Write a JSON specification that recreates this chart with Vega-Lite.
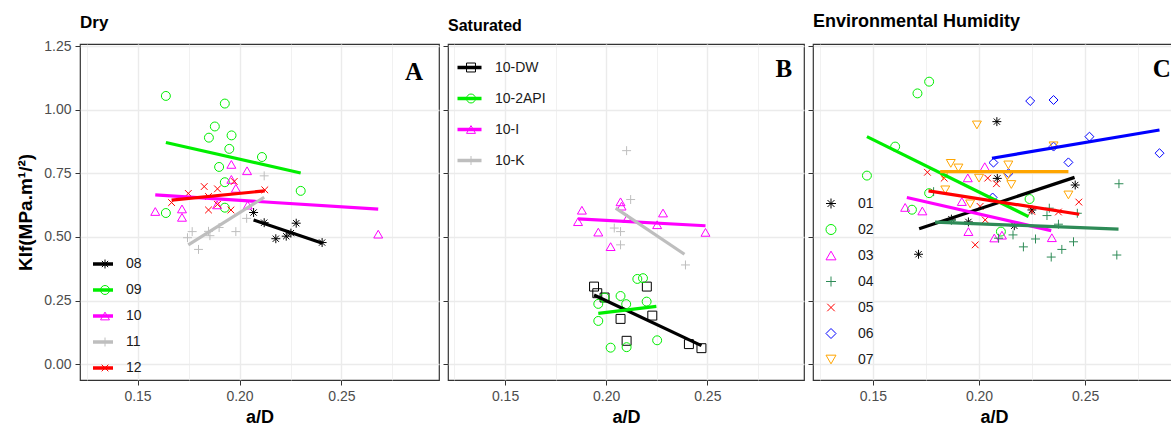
{
  "$schema": "https://vega.github.io/schema/vega-lite/v6.json",
  "padding": {"left": 16, "top": 12, "right": 0, "bottom": 0},
  "spacing": 1,
  "config": {
    "font": "Liberation Sans",
    "view": {"stroke": "#333333", "strokeWidth": 1.2},
    "axis": {"domain": false, "gridColor": "#EBEBEB", "tickColor": "#333333", "labelColor": "#4D4D4D", "labelFontSize": 14, "titleFontSize": 18, "titleFontWeight": "bold", "titleColor": "#000000", "tickSize": 5, "labelPadding": 4},
    "legend": {"title": null, "padding": 0, "rowPadding": 0, "labelFontSize": 14, "labelColor": "#1A1A1A"},
    "title": {"fontSize": 16, "fontWeight": "bold", "color": "#000000", "anchor": "start", "frame": "group"}
  },
  "resolve": {"scale": {"color": "independent", "shape": "independent", "stroke": "independent"}},
  "datasets": {
    "pts": [
      {"p": "A", "g": "08", "x": 0.2069, "y": 0.596}, {"p": "A", "g": "08", "x": 0.2121, "y": 0.556}, {"p": "A", "g": "08", "x": 0.2178, "y": 0.493}, {"p": "A", "g": "08", "x": 0.2229, "y": 0.503}, {"p": "A", "g": "08", "x": 0.2252, "y": 0.515}, {"p": "A", "g": "08", "x": 0.2278, "y": 0.554}, {"p": "A", "g": "08", "x": 0.2405, "y": 0.478},
      {"p": "A", "g": "09", "x": 0.1639, "y": 1.054}, {"p": "A", "g": "09", "x": 0.1928, "y": 1.024}, {"p": "A", "g": "09", "x": 0.1879, "y": 0.934}, {"p": "A", "g": "09", "x": 0.185, "y": 0.89}, {"p": "A", "g": "09", "x": 0.1961, "y": 0.899}, {"p": "A", "g": "09", "x": 0.195, "y": 0.846}, {"p": "A", "g": "09", "x": 0.19, "y": 0.775}, {"p": "A", "g": "09", "x": 0.1928, "y": 0.715}, {"p": "A", "g": "09", "x": 0.211, "y": 0.814}, {"p": "A", "g": "09", "x": 0.23, "y": 0.681}, {"p": "A", "g": "09", "x": 0.1639, "y": 0.594}, {"p": "A", "g": "09", "x": 0.1928, "y": 0.615},
      {"p": "A", "g": "10", "x": 0.1587, "y": 0.6}, {"p": "A", "g": "10", "x": 0.1718, "y": 0.61}, {"p": "A", "g": "10", "x": 0.1718, "y": 0.577}, {"p": "A", "g": "10", "x": 0.196, "y": 0.785}, {"p": "A", "g": "10", "x": 0.2037, "y": 0.76}, {"p": "A", "g": "10", "x": 0.196, "y": 0.726}, {"p": "A", "g": "10", "x": 0.1982, "y": 0.691}, {"p": "A", "g": "10", "x": 0.189, "y": 0.626}, {"p": "A", "g": "10", "x": 0.204, "y": 0.625}, {"p": "A", "g": "10", "x": 0.268, "y": 0.511},
      {"p": "A", "g": "11", "x": 0.1745, "y": 0.497}, {"p": "A", "g": "11", "x": 0.1768, "y": 0.521}, {"p": "A", "g": "11", "x": 0.1799, "y": 0.451}, {"p": "A", "g": "11", "x": 0.1848, "y": 0.522}, {"p": "A", "g": "11", "x": 0.1855, "y": 0.505}, {"p": "A", "g": "11", "x": 0.19, "y": 0.537}, {"p": "A", "g": "11", "x": 0.1982, "y": 0.521}, {"p": "A", "g": "11", "x": 0.2035, "y": 0.573}, {"p": "A", "g": "11", "x": 0.2121, "y": 0.74},
      {"p": "A", "g": "12", "x": 0.1667, "y": 0.635}, {"p": "A", "g": "12", "x": 0.1749, "y": 0.671}, {"p": "A", "g": "12", "x": 0.1827, "y": 0.698}, {"p": "A", "g": "12", "x": 0.1892, "y": 0.689}, {"p": "A", "g": "12", "x": 0.1848, "y": 0.659}, {"p": "A", "g": "12", "x": 0.1974, "y": 0.718}, {"p": "A", "g": "12", "x": 0.1848, "y": 0.606}, {"p": "A", "g": "12", "x": 0.1892, "y": 0.628}, {"p": "A", "g": "12", "x": 0.1958, "y": 0.606}, {"p": "A", "g": "12", "x": 0.2124, "y": 0.685},
      {"p": "B", "g": "10-DW", "x": 0.194, "y": 0.305}, {"p": "B", "g": "10-DW", "x": 0.1956, "y": 0.279}, {"p": "B", "g": "10-DW", "x": 0.1992, "y": 0.262}, {"p": "B", "g": "10-DW", "x": 0.2201, "y": 0.305}, {"p": "B", "g": "10-DW", "x": 0.2071, "y": 0.178}, {"p": "B", "g": "10-DW", "x": 0.2228, "y": 0.191}, {"p": "B", "g": "10-DW", "x": 0.2101, "y": 0.092}, {"p": "B", "g": "10-DW", "x": 0.2409, "y": 0.079}, {"p": "B", "g": "10-DW", "x": 0.2471, "y": 0.063},
      {"p": "B", "g": "10-2API", "x": 0.2154, "y": 0.335}, {"p": "B", "g": "10-2API", "x": 0.2182, "y": 0.338}, {"p": "B", "g": "10-2API", "x": 0.2071, "y": 0.268}, {"p": "B", "g": "10-2API", "x": 0.1961, "y": 0.237}, {"p": "B", "g": "10-2API", "x": 0.2099, "y": 0.236}, {"p": "B", "g": "10-2API", "x": 0.22, "y": 0.246}, {"p": "B", "g": "10-2API", "x": 0.1961, "y": 0.17}, {"p": "B", "g": "10-2API", "x": 0.2022, "y": 0.065}, {"p": "B", "g": "10-2API", "x": 0.2101, "y": 0.067}, {"p": "B", "g": "10-2API", "x": 0.2252, "y": 0.094}, {"p": "B", "g": "10-2API", "x": 0.1992, "y": 0.262},
      {"p": "B", "g": "10-I", "x": 0.188, "y": 0.605}, {"p": "B", "g": "10-I", "x": 0.1861, "y": 0.56}, {"p": "B", "g": "10-I", "x": 0.1961, "y": 0.519}, {"p": "B", "g": "10-I", "x": 0.2022, "y": 0.462}, {"p": "B", "g": "10-I", "x": 0.2071, "y": 0.638}, {"p": "B", "g": "10-I", "x": 0.2076, "y": 0.621}, {"p": "B", "g": "10-I", "x": 0.2104, "y": 0.573}, {"p": "B", "g": "10-I", "x": 0.2252, "y": 0.548}, {"p": "B", "g": "10-I", "x": 0.2281, "y": 0.594}, {"p": "B", "g": "10-I", "x": 0.2491, "y": 0.518},
      {"p": "B", "g": "10-K", "x": 0.2101, "y": 0.839}, {"p": "B", "g": "10-K", "x": 0.2121, "y": 0.647}, {"p": "B", "g": "10-K", "x": 0.204, "y": 0.535}, {"p": "B", "g": "10-K", "x": 0.2071, "y": 0.521}, {"p": "B", "g": "10-K", "x": 0.2071, "y": 0.469}, {"p": "B", "g": "10-K", "x": 0.2392, "y": 0.39},
      {"p": "C", "g": "01", "x": 0.2084, "y": 0.953}, {"p": "C", "g": "01", "x": 0.2086, "y": 0.73}, {"p": "C", "g": "01", "x": 0.2453, "y": 0.704}, {"p": "C", "g": "01", "x": 0.2249, "y": 0.606}, {"p": "C", "g": "01", "x": 0.2166, "y": 0.544}, {"p": "C", "g": "01", "x": 0.195, "y": 0.559}, {"p": "C", "g": "01", "x": 0.187, "y": 0.57}, {"p": "C", "g": "01", "x": 0.1715, "y": 0.432},
      {"p": "C", "g": "02", "x": 0.1765, "y": 1.11}, {"p": "C", "g": "02", "x": 0.171, "y": 1.064}, {"p": "C", "g": "02", "x": 0.1605, "y": 0.855}, {"p": "C", "g": "02", "x": 0.1472, "y": 0.741}, {"p": "C", "g": "02", "x": 0.1765, "y": 0.672}, {"p": "C", "g": "02", "x": 0.1684, "y": 0.607}, {"p": "C", "g": "02", "x": 0.2103, "y": 0.521}, {"p": "C", "g": "02", "x": 0.2238, "y": 0.649},
      {"p": "C", "g": "03", "x": 0.1652, "y": 0.616}, {"p": "C", "g": "03", "x": 0.1733, "y": 0.602}, {"p": "C", "g": "03", "x": 0.1919, "y": 0.639}, {"p": "C", "g": "03", "x": 0.1947, "y": 0.732}, {"p": "C", "g": "03", "x": 0.2027, "y": 0.776}, {"p": "C", "g": "03", "x": 0.195, "y": 0.521}, {"p": "C", "g": "03", "x": 0.2072, "y": 0.496}, {"p": "C", "g": "03", "x": 0.2108, "y": 0.507}, {"p": "C", "g": "03", "x": 0.2343, "y": 0.497},
      {"p": "C", "g": "04", "x": 0.2659, "y": 0.709}, {"p": "C", "g": "04", "x": 0.2649, "y": 0.429}, {"p": "C", "g": "04", "x": 0.2445, "y": 0.481}, {"p": "C", "g": "04", "x": 0.239, "y": 0.451}, {"p": "C", "g": "04", "x": 0.234, "y": 0.421}, {"p": "C", "g": "04", "x": 0.2266, "y": 0.492}, {"p": "C", "g": "04", "x": 0.2209, "y": 0.461}, {"p": "C", "g": "04", "x": 0.216, "y": 0.508}, {"p": "C", "g": "04", "x": 0.2092, "y": 0.495}, {"p": "C", "g": "04", "x": 0.232, "y": 0.584}, {"p": "C", "g": "04", "x": 0.2331, "y": 0.613}, {"p": "C", "g": "04", "x": 0.2463, "y": 0.593}, {"p": "C", "g": "04", "x": 0.2374, "y": 0.55}, {"p": "C", "g": "04", "x": 0.1786, "y": 0.678}, {"p": "C", "g": "04", "x": 0.187, "y": 0.565},
      {"p": "C", "g": "05", "x": 0.1757, "y": 0.754}, {"p": "C", "g": "05", "x": 0.1836, "y": 0.731}, {"p": "C", "g": "05", "x": 0.2041, "y": 0.731}, {"p": "C", "g": "05", "x": 0.2082, "y": 0.709}, {"p": "C", "g": "05", "x": 0.2005, "y": 0.62}, {"p": "C", "g": "05", "x": 0.2029, "y": 0.567}, {"p": "C", "g": "05", "x": 0.1982, "y": 0.469}, {"p": "C", "g": "05", "x": 0.2249, "y": 0.6}, {"p": "C", "g": "05", "x": 0.2374, "y": 0.598}, {"p": "C", "g": "05", "x": 0.247, "y": 0.637},
      {"p": "C", "g": "06", "x": 0.2241, "y": 1.034}, {"p": "C", "g": "06", "x": 0.2351, "y": 1.038}, {"p": "C", "g": "06", "x": 0.252, "y": 0.894}, {"p": "C", "g": "06", "x": 0.2351, "y": 0.855}, {"p": "C", "g": "06", "x": 0.2421, "y": 0.793}, {"p": "C", "g": "06", "x": 0.2068, "y": 0.792}, {"p": "C", "g": "06", "x": 0.285, "y": 0.829}, {"p": "C", "g": "06", "x": 0.2064, "y": 0.655}, {"p": "C", "g": "06", "x": 0.2139, "y": 0.75},
      {"p": "C", "g": "07", "x": 0.199, "y": 0.94}, {"p": "C", "g": "07", "x": 0.1867, "y": 0.789}, {"p": "C", "g": "07", "x": 0.1903, "y": 0.771}, {"p": "C", "g": "07", "x": 0.1833, "y": 0.74}, {"p": "C", "g": "07", "x": 0.1841, "y": 0.685}, {"p": "C", "g": "07", "x": 0.2, "y": 0.731}, {"p": "C", "g": "07", "x": 0.1958, "y": 0.63}, {"p": "C", "g": "07", "x": 0.2138, "y": 0.783}, {"p": "C", "g": "07", "x": 0.2133, "y": 0.74}, {"p": "C", "g": "07", "x": 0.2152, "y": 0.706}, {"p": "C", "g": "07", "x": 0.2351, "y": 0.858}, {"p": "C", "g": "07", "x": 0.2421, "y": 0.665}
    ],
    "fits": [
      {"p": "A", "g": "08", "x": 0.2069, "y": 0.567}, {"p": "A", "g": "08", "x": 0.2407, "y": 0.475},
      {"p": "A", "g": "09", "x": 0.1639, "y": 0.871}, {"p": "A", "g": "09", "x": 0.23, "y": 0.751},
      {"p": "A", "g": "10", "x": 0.1587, "y": 0.665}, {"p": "A", "g": "10", "x": 0.268, "y": 0.609},
      {"p": "A", "g": "11", "x": 0.1749, "y": 0.469}, {"p": "A", "g": "11", "x": 0.2121, "y": 0.656},
      {"p": "A", "g": "12", "x": 0.1667, "y": 0.645}, {"p": "A", "g": "12", "x": 0.2124, "y": 0.681},
      {"p": "B", "g": "10-DW", "x": 0.194, "y": 0.272}, {"p": "B", "g": "10-DW", "x": 0.2471, "y": 0.073},
      {"p": "B", "g": "10-2API", "x": 0.1961, "y": 0.2}, {"p": "B", "g": "10-2API", "x": 0.2248, "y": 0.227},
      {"p": "B", "g": "10-I", "x": 0.1861, "y": 0.571}, {"p": "B", "g": "10-I", "x": 0.2491, "y": 0.544},
      {"p": "B", "g": "10-K", "x": 0.2047, "y": 0.613}, {"p": "B", "g": "10-K", "x": 0.2387, "y": 0.432},
      {"p": "C", "g": "01", "x": 0.1718, "y": 0.532}, {"p": "C", "g": "01", "x": 0.245, "y": 0.734},
      {"p": "C", "g": "02", "x": 0.1472, "y": 0.894}, {"p": "C", "g": "02", "x": 0.2233, "y": 0.58},
      {"p": "C", "g": "03", "x": 0.166, "y": 0.655}, {"p": "C", "g": "03", "x": 0.234, "y": 0.525},
      {"p": "C", "g": "04", "x": 0.1793, "y": 0.558}, {"p": "C", "g": "04", "x": 0.2657, "y": 0.531},
      {"p": "C", "g": "05", "x": 0.1762, "y": 0.681}, {"p": "C", "g": "05", "x": 0.2472, "y": 0.589},
      {"p": "C", "g": "06", "x": 0.2061, "y": 0.809}, {"p": "C", "g": "06", "x": 0.285, "y": 0.92},
      {"p": "C", "g": "07", "x": 0.1817, "y": 0.757}, {"p": "C", "g": "07", "x": 0.2421, "y": 0.757}
    ],
    "tags": [
      {"p": "A", "t": "A", "x": 0.2856, "y": 1.147},
      {"p": "B", "t": "B", "x": 0.2878, "y": 1.16},
      {"p": "C", "t": "C", "x": 0.2861, "y": 1.16}
    ]
  },
  "hconcat": [
    {
      "width": 359, "height": 336,
      "title": {"text": "Dry", "offset": 7, "fontSize": 17},
      "layer": [
        {
          "data": {"name": "pts"}, "transform": [{"filter": "datum.p == 'A'"}],
          "mark": {"type": "point", "filled": false, "size": 80, "strokeWidth": 1, "opacity": 1},
          "encoding": {
            "x": {"field": "x", "type": "quantitative", "scale": {"domain": [0.1218, 0.2978], "nice": false, "zero": false},
              "axis": {"title": "a/D", "values": [0.125, 0.15, 0.175, 0.2, 0.225, 0.25, 0.275], "labelExpr": "abs(datum.value*20-round(datum.value*20))<0.001 ? format(datum.value, '.2f') : ''", "tickOpacity": {"condition": {"test": "abs(datum.value*20-round(datum.value*20))<0.001", "value": 1}, "value": 0}, "gridWidth": {"condition": {"test": "abs(datum.value*20-round(datum.value*20))<0.001", "value": 1.4}, "value": 0.7}, "titlePadding": 5}},
            "y": {"field": "y", "type": "quantitative", "scale": {"domain": [-0.062, 1.258], "nice": false, "zero": false},
              "axis": {"title": "KIf(MPa.m¹/²)", "titleFontSize": 19, "values": [0, 0.125, 0.25, 0.375, 0.5, 0.625, 0.75, 0.875, 1, 1.125, 1.25], "labelExpr": "abs(datum.value*4-round(datum.value*4))<0.001 ? format(datum.value, '.2f') : ''", "tickOpacity": {"condition": {"test": "abs(datum.value*4-round(datum.value*4))<0.001", "value": 1}, "value": 0}, "gridWidth": {"condition": {"test": "abs(datum.value*4-round(datum.value*4))<0.001", "value": 1.4}, "value": 0.7}, "titlePadding": 8}},
            "color": {"field": "g", "type": "nominal", "scale": {"domain": ["08", "09", "10", "11", "12"], "range": ["#000000", "#00EE00", "#FF00FF", "#BEBEBE", "#FF0000"]},
              "legend": {"orient": "none", "legendX": 18, "legendY": 207, "clipHeight": 26, "symbolSize": 80, "symbolStrokeWidth": 1, "labelOffset": 14}},
            "shape": {"field": "g", "type": "nominal", "scale": {"domain": ["08", "09", "10", "11", "12"], "range": ["M-1,0L1,0M0,-1L0,1M-0.7,-0.7L0.7,0.7M-0.7,0.7L0.7,-0.7", "circle", "triangle-up", "M-1,0L1,0M0,-1L0,1", "M-0.75,-0.75L0.75,0.75M-0.75,0.75L0.75,-0.75"]},
              "legend": {"orient": "none", "legendX": 18, "legendY": 207, "clipHeight": 26, "symbolSize": 80, "symbolStrokeWidth": 1, "labelOffset": 14}}
          }
        },
        {
          "data": {"name": "fits"}, "transform": [{"filter": "datum.p == 'A'"}],
          "mark": {"type": "line", "strokeWidth": 3.2},
          "encoding": {
            "x": {"field": "x", "type": "quantitative"},
            "y": {"field": "y", "type": "quantitative"},
            "stroke": {"field": "g", "type": "nominal", "scale": {"domain": ["08", "09", "10", "11", "12", "~"], "range": ["#000000", "#00EE00", "#FF00FF", "#BEBEBE", "#FF0000", "#FFFFFF"]},
              "legend": {"values": ["08", "09", "10", "11", "12"], "orient": "none", "legendX": 11, "legendY": 207, "clipHeight": 26, "symbolType": "stroke", "symbolSize": 400, "symbolStrokeWidth": 3.5, "labelExpr": "''"}}
          }
        },
        {
          "data": {"name": "tags"}, "transform": [{"filter": "datum.p == 'A'"}],
          "mark": {"type": "text", "font": "Liberation Serif", "fontWeight": "bold", "fontSize": 25, "color": "#000000"},
          "encoding": {"x": {"field": "x", "type": "quantitative"}, "y": {"field": "y", "type": "quantitative"}, "text": {"field": "t"}}
        }
      ]
    },
    {
      "width": 356, "height": 336,
      "title": {"text": "Saturated", "offset": 10.5},
      "layer": [
        {
          "data": {"name": "pts"}, "transform": [{"filter": "datum.p == 'B'"}],
          "mark": {"type": "point", "filled": false, "size": 80, "strokeWidth": 1, "opacity": 1},
          "encoding": {
            "x": {"field": "x", "type": "quantitative", "scale": {"domain": [0.1218, 0.2978], "nice": false, "zero": false},
              "axis": {"title": "a/D", "values": [0.125, 0.15, 0.175, 0.2, 0.225, 0.25, 0.275], "labelExpr": "abs(datum.value*20-round(datum.value*20))<0.001 ? format(datum.value, '.2f') : ''", "tickOpacity": {"condition": {"test": "abs(datum.value*20-round(datum.value*20))<0.001", "value": 1}, "value": 0}, "gridWidth": {"condition": {"test": "abs(datum.value*20-round(datum.value*20))<0.001", "value": 1.4}, "value": 0.7}, "titlePadding": 5}},
            "y": {"field": "y", "type": "quantitative", "scale": {"domain": [-0.062, 1.258], "nice": false, "zero": false},
              "axis": {"title": null, "labels": false, "values": [0, 0.125, 0.25, 0.375, 0.5, 0.625, 0.75, 0.875, 1, 1.125, 1.25], "tickOpacity": {"condition": {"test": "abs(datum.value*4-round(datum.value*4))<0.001", "value": 1}, "value": 0}, "gridWidth": {"condition": {"test": "abs(datum.value*4-round(datum.value*4))<0.001", "value": 1.4}, "value": 0.7}}},
            "color": {"field": "g", "type": "nominal", "scale": {"domain": ["10-DW", "10-2API", "10-I", "10-K"], "range": ["#000000", "#00EE00", "#FF00FF", "#BEBEBE"]},
              "legend": {"orient": "none", "legendX": 16, "legendY": 8, "clipHeight": 31, "symbolSize": 80, "symbolStrokeWidth": 1, "labelOffset": 17}},
            "shape": {"field": "g", "type": "nominal", "scale": {"domain": ["10-DW", "10-2API", "10-I", "10-K"], "range": ["square", "circle", "triangle-up", "M-1,0L1,0M0,-1L0,1"]},
              "legend": {"orient": "none", "legendX": 16, "legendY": 8, "clipHeight": 31, "symbolSize": 80, "symbolStrokeWidth": 1, "labelOffset": 17}}
          }
        },
        {
          "data": {"name": "fits"}, "transform": [{"filter": "datum.p == 'B'"}],
          "mark": {"type": "line", "strokeWidth": 3.2},
          "encoding": {
            "x": {"field": "x", "type": "quantitative"},
            "y": {"field": "y", "type": "quantitative"},
            "stroke": {"field": "g", "type": "nominal", "scale": {"domain": ["10-DW", "10-2API", "10-I", "10-K", "~"], "range": ["#000000", "#00EE00", "#FF00FF", "#BEBEBE", "#FFFFFF"]},
              "legend": {"values": ["10-DW", "10-2API", "10-I", "10-K"], "orient": "none", "legendX": 7.5, "legendY": 8, "clipHeight": 31, "symbolType": "stroke", "symbolSize": 576, "symbolStrokeWidth": 3.5, "labelExpr": "''"}}
          }
        },
        {
          "data": {"name": "tags"}, "transform": [{"filter": "datum.p == 'B'"}],
          "mark": {"type": "text", "font": "Liberation Serif", "fontWeight": "bold", "fontSize": 25, "color": "#000000"},
          "encoding": {"x": {"field": "x", "type": "quantitative"}, "y": {"field": "y", "type": "quantitative"}, "text": {"field": "t"}}
        }
      ]
    },
    {
      "width": 362, "height": 336,
      "title": {"text": "Environmental Humidity", "offset": 13, "fontSize": 18},
      "layer": [
        {
          "data": {"name": "pts"}, "transform": [{"filter": "datum.p == 'C'"}],
          "mark": {"type": "point", "filled": false, "size": 80, "strokeWidth": 1, "opacity": 1},
          "encoding": {
            "x": {"field": "x", "type": "quantitative", "scale": {"domain": [0.1218, 0.2923], "nice": false, "zero": false},
              "axis": {"title": "a/D", "values": [0.125, 0.15, 0.175, 0.2, 0.225, 0.25, 0.275], "labelExpr": "abs(datum.value*20-round(datum.value*20))<0.001 ? format(datum.value, '.2f') : ''", "tickOpacity": {"condition": {"test": "abs(datum.value*20-round(datum.value*20))<0.001", "value": 1}, "value": 0}, "gridWidth": {"condition": {"test": "abs(datum.value*20-round(datum.value*20))<0.001", "value": 1.4}, "value": 0.7}, "titlePadding": 5}},
            "y": {"field": "y", "type": "quantitative", "scale": {"domain": [-0.062, 1.258], "nice": false, "zero": false},
              "axis": {"title": null, "labels": false, "values": [0, 0.125, 0.25, 0.375, 0.5, 0.625, 0.75, 0.875, 1, 1.125, 1.25], "tickOpacity": {"condition": {"test": "abs(datum.value*4-round(datum.value*4))<0.001", "value": 1}, "value": 0}, "gridWidth": {"condition": {"test": "abs(datum.value*4-round(datum.value*4))<0.001", "value": 1.4}, "value": 0.7}}},
            "color": {"field": "g", "type": "nominal", "scale": {"domain": ["01", "02", "03", "04", "05", "06", "07"], "range": ["#000000", "#00EE00", "#FF00FF", "#2E8B57", "#FF0000", "#0000FF", "#FFA500"]},
              "legend": {"orient": "none", "legendX": 11, "legendY": 146.5, "clipHeight": 26, "symbolSize": 100, "symbolStrokeWidth": 1, "labelOffset": 20}},
            "shape": {"field": "g", "type": "nominal", "scale": {"domain": ["01", "02", "03", "04", "05", "06", "07"], "range": ["M-1,0L1,0M0,-1L0,1M-0.7,-0.7L0.7,0.7M-0.7,0.7L0.7,-0.7", "circle", "triangle-up", "M-1,0L1,0M0,-1L0,1", "M-0.75,-0.75L0.75,0.75M-0.75,0.75L0.75,-0.75", "diamond", "triangle-down"]},
              "legend": {"orient": "none", "legendX": 11, "legendY": 146.5, "clipHeight": 26, "symbolSize": 100, "symbolStrokeWidth": 1, "labelOffset": 20}}
          }
        },
        {
          "data": {"name": "fits"}, "transform": [{"filter": "datum.p == 'C'"}],
          "mark": {"type": "line", "strokeWidth": 3.2},
          "encoding": {
            "x": {"field": "x", "type": "quantitative"},
            "y": {"field": "y", "type": "quantitative"},
            "stroke": {"field": "g", "type": "nominal", "scale": {"domain": ["01", "02", "03", "04", "05", "06", "07", "~"], "range": ["#000000", "#00EE00", "#FF00FF", "#2E8B57", "#FF0000", "#0000FF", "#FFA500", "#FFFFFF"]}, "legend": null}
          }
        },
        {
          "data": {"name": "tags"}, "transform": [{"filter": "datum.p == 'C'"}],
          "mark": {"type": "text", "font": "Liberation Serif", "fontWeight": "bold", "fontSize": 25, "color": "#000000"},
          "encoding": {"x": {"field": "x", "type": "quantitative"}, "y": {"field": "y", "type": "quantitative"}, "text": {"field": "t"}}
        }
      ]
    }
  ]
}
